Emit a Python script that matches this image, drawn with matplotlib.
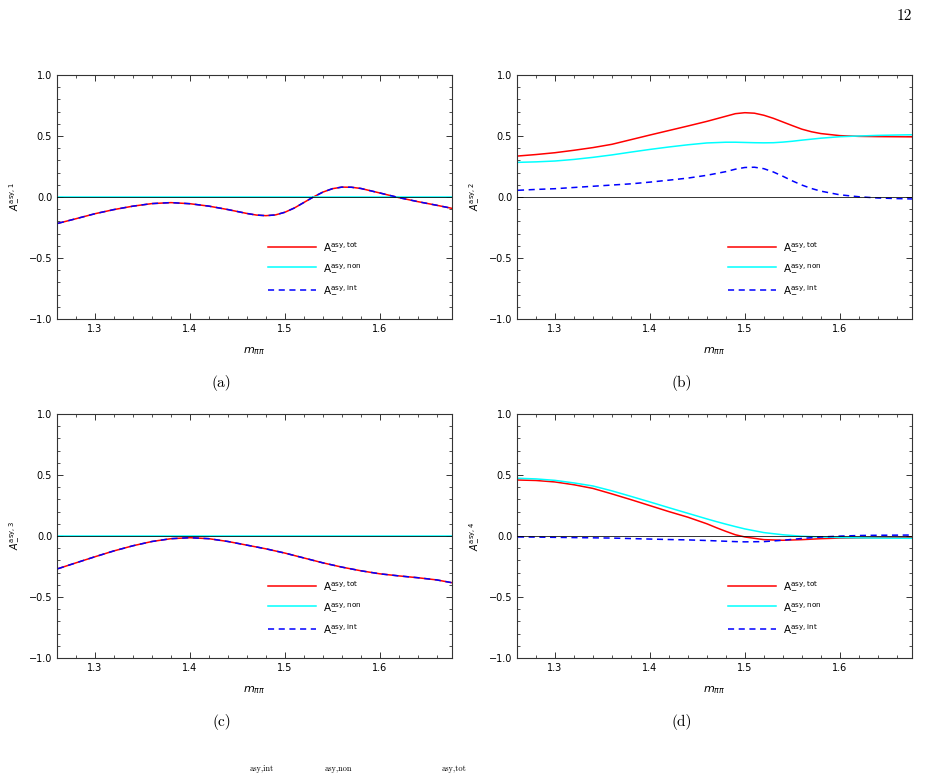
import numpy as np
import matplotlib.pyplot as plt
from matplotlib.ticker import MultipleLocator

# sample points along m_pipi
m_a = [1.261, 1.28, 1.30, 1.32, 1.34, 1.36, 1.38, 1.40, 1.42, 1.44, 1.46, 1.47, 1.48, 1.49,
       1.50, 1.51, 1.52, 1.53, 1.54, 1.55, 1.56, 1.57, 1.58, 1.60, 1.62, 1.64, 1.66, 1.676]
tot_a = [-0.216, -0.178, -0.137, -0.103, -0.075, -0.054, -0.046, -0.055, -0.075, -0.103, -0.135, -0.148, -0.153, -0.147,
         -0.125, -0.09, -0.045, 0.0, 0.04, 0.068, 0.081, 0.080, 0.070, 0.033, -0.005, -0.038, -0.068, -0.093]
non_a = [0.0] * len(m_a)
int_a = tot_a

m_b = [1.261, 1.28, 1.30, 1.32, 1.34, 1.36, 1.38, 1.40, 1.42, 1.44, 1.46, 1.48, 1.49, 1.50, 1.51,
       1.52, 1.53, 1.54, 1.55, 1.56, 1.57, 1.58, 1.60, 1.62, 1.64, 1.66, 1.676]
tot_b = [0.336, 0.348, 0.363, 0.383, 0.405, 0.432, 0.47, 0.508, 0.545, 0.582, 0.62, 0.662, 0.683, 0.691, 0.687,
         0.67, 0.645, 0.615, 0.585, 0.556, 0.535, 0.52, 0.503, 0.497, 0.495, 0.494, 0.493]
non_b = [0.284, 0.288, 0.295, 0.308, 0.325, 0.345, 0.368, 0.39, 0.41, 0.428, 0.443, 0.449, 0.449, 0.447, 0.445,
         0.444, 0.445, 0.45, 0.457, 0.466, 0.474, 0.482, 0.494, 0.50, 0.505, 0.508, 0.51]
int_b = [0.055, 0.062, 0.068, 0.078, 0.088, 0.098, 0.108, 0.122, 0.138, 0.155, 0.178, 0.208, 0.228, 0.242, 0.244,
         0.232, 0.205, 0.17, 0.132, 0.098, 0.07, 0.048, 0.018, 0.002, -0.008, -0.013, -0.016]

m_c = [1.261, 1.28, 1.30, 1.32, 1.34, 1.36, 1.38, 1.40, 1.42, 1.44, 1.46, 1.48, 1.50, 1.52, 1.54,
       1.56, 1.58, 1.60, 1.62, 1.64, 1.66, 1.676]
tot_c = [-0.268, -0.22, -0.17, -0.122, -0.08, -0.045, -0.022, -0.014, -0.022, -0.045, -0.075, -0.105, -0.14, -0.18, -0.22,
         -0.255, -0.285, -0.31, -0.327, -0.342, -0.36, -0.383]
non_c = [0.0] * len(m_c)
int_c = tot_c

m_d = [1.261, 1.28, 1.30, 1.32, 1.34, 1.36, 1.38, 1.40, 1.42, 1.44, 1.46, 1.47, 1.48, 1.49, 1.50,
       1.52, 1.54, 1.56, 1.58, 1.60, 1.62, 1.64, 1.66, 1.676]
tot_d = [0.459, 0.455, 0.443, 0.42, 0.39, 0.345, 0.298, 0.249, 0.2, 0.154, 0.10, 0.068, 0.038, 0.01, -0.008,
         -0.03, -0.035, -0.03, -0.022, -0.017, -0.015, -0.013, -0.012, -0.011]
non_d = [0.473, 0.468, 0.456, 0.435, 0.41, 0.37, 0.325, 0.279, 0.232, 0.186, 0.14, 0.118, 0.097, 0.077, 0.058,
         0.028, 0.01, -0.002, -0.008, -0.013, -0.015, -0.017, -0.018, -0.019]
int_d = [-0.008, -0.009, -0.011, -0.013, -0.015, -0.017, -0.021, -0.025, -0.029, -0.032, -0.037, -0.04, -0.043, -0.046, -0.048,
         -0.046, -0.035, -0.02, -0.008, -0.001, 0.004, 0.006, 0.007, 0.008]

panels = [
    (m_a, tot_a, non_a, int_a, "1", "(a)"),
    (m_b, tot_b, non_b, int_b, "2", "(b)"),
    (m_c, tot_c, non_c, int_c, "3", "(c)"),
    (m_d, tot_d, non_d, int_d, "4", "(d)"),
]

W, H = 928, 774
fig = plt.figure(figsize=(W / 100, H / 100), dpi=100)

lefts = [57, 517]
tops = [75, 414]
aw, ah = 395, 244

for k, (m, tot, non, inte, idx, cap) in enumerate(panels):
    col, row = k % 2, k // 2
    l, t = lefts[col], tops[row]
    ax = fig.add_axes([l / W, 1 - (t + ah) / H, aw / W, ah / H])

    ax.axhline(0, color='black', lw=0.7, zorder=4, alpha=0.8)
    ax.plot(m, tot, color='red', lw=1.1, label=r"A$_{-}^{\mathrm{asy,tot}}$", zorder=2)
    ax.plot(m, non, color='cyan', lw=1.1, label=r"A$_{-}^{\mathrm{asy,non}}$", zorder=2)
    ax.plot(m, inte, color='blue', lw=1.1, ls=(0, (4, 3)), label=r"A$_{-}^{\mathrm{asy,int}}$", zorder=3)

    ax.set_xlim(1.26, 1.676)
    ax.set_ylim(-1.0, 1.0)
    ax.xaxis.set_major_locator(MultipleLocator(0.1))
    ax.xaxis.set_minor_locator(MultipleLocator(0.02))
    ax.yaxis.set_major_locator(MultipleLocator(0.5))
    ax.yaxis.set_minor_locator(MultipleLocator(0.1))
    ax.tick_params(which='both', direction='in', top=True, right=True, labelsize=7, colors='#333333', labelcolor='black')
    ax.tick_params(which='major', length=4, width=0.7)
    ax.tick_params(which='minor', length=2.5, width=0.6)
    for s in ax.spines.values():
        s.set_linewidth(0.8)
        s.set_color('#333333')

    ax.set_xlabel(r"$m_{\pi\pi}$", fontsize=8, labelpad=8)
    ax.set_ylabel(r"$A_{-}^{\mathrm{asy},%s}$" % idx, fontsize=7, labelpad=6)

    ax.legend(loc='upper left', bbox_to_anchor=(0.51, 0.36), frameon=False,
              fontsize=7.5, handlelength=4.6, labelspacing=0.9, handletextpad=0.7)

    fig.text((l + aw / 2 - 33) / W, 1 - (t + ah + 64) / H, cap, family='cmr10',
             fontsize=11, ha='center', va='center')

fig.text(912 / W, 1 - 16 / H, "12", family='cmr10', fontsize=11, ha='right', va='center')

# caption line fragment at the page bottom
for x, s in [(250, "asy,int"), (325, "asy,non"), (442, "asy,tot")]:
    fig.text(x / W, 1 / H, s, family='cmr10', fontsize=6, ha='left', va='bottom')

fig.savefig("out.png", dpi=100)
